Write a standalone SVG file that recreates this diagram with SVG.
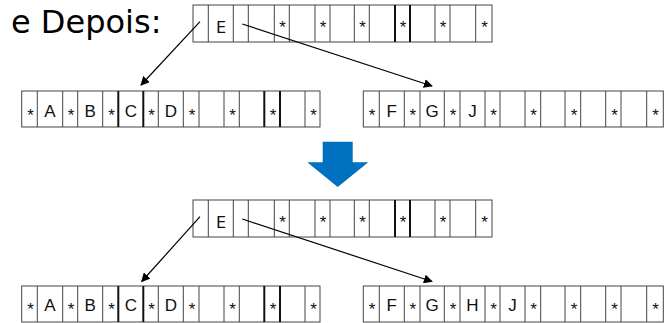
<svg xmlns="http://www.w3.org/2000/svg" width="667" height="323" viewBox="0 0 667 323">
  <style>
    .box { fill: #ffffff; stroke: #444444; stroke-width: 1; }
    .sep { stroke: #444444; stroke-width: 1; }
    .thick { stroke: #111111; stroke-width: 2; }
    .key { font-family: "Liberation Sans", Arial, sans-serif; font-size: 17px; fill: #111111; text-anchor: middle; }
    .keyE { font-family: "DejaVu Sans", Verdana, sans-serif; font-size: 16px; fill: #111111; text-anchor: middle; }
    .ptr { font-family: "Liberation Sans", Arial, sans-serif; font-size: 17px; fill: #111111; text-anchor: middle; }
    .title { font-family: "DejaVu Sans", Verdana, sans-serif; font-size: 32px; fill: #000000; }
    .link { stroke: #000000; stroke-width: 1.2; fill: none; marker-end: url(#head); }
  </style>
  <defs>
    <marker id="head" viewBox="0 0 10 10" refX="9" refY="5" markerWidth="9" markerHeight="9" markerUnits="userSpaceOnUse" orient="auto">
      <path d="M0,0 L10,5 L0,10 z" fill="#000000"/>
    </marker>
  </defs>

  <text class="title" x="11" y="33">e Depois:</text>

  <!-- first tree: root page -->
  <g id="root1">
    <rect class="box" x="193" y="5" width="299" height="37"/>
    <path class="sep" d="M208.3,5V42M233.3,5V42M248.3,5V42M274.3,5V42M289.3,5V42M315,5V42M330,5V42M354.3,5V42M369.3,5V42M435,5V42M450,5V42M475.7,5V42"/>
    <path class="thick" d="M395,5V42M410,5V42"/>
    <text class="keyE" x="221" y="32.5">E</text>
    <text class="ptr" x="282.5" y="33">*</text>
    <text class="ptr" x="323" y="33">*</text>
    <text class="ptr" x="362.5" y="33">*</text>
    <text class="ptr" x="403" y="33">*</text>
    <text class="ptr" x="443" y="33">*</text>
    <text class="ptr" x="484.5" y="33">*</text>
  </g>

  <!-- first tree: left leaf -->
  <g id="leftLeaf1">
    <rect class="box" x="21.7" y="91" width="298.3" height="36"/>
    <path class="sep" d="M37.3,91V127M62.7,91V127M77.7,91V127M102.7,91V127M158.3,91V127M183.3,91V127M199,91V127M224,91V127M239.3,91V127M305,91V127"/>
    <path class="thick" d="M118.3,91V127M143.3,91V127M264.3,91V127M280,91V127"/>
    <text class="ptr" x="30.5" y="121">*</text>
    <text class="key" x="50" y="117">A</text>
    <text class="ptr" x="71" y="121">*</text>
    <text class="key" x="90.2" y="117">B</text>
    <text class="ptr" x="111.5" y="121">*</text>
    <text class="key" x="130.8" y="117">C</text>
    <text class="ptr" x="151.5" y="121">*</text>
    <text class="key" x="170.8" y="117">D</text>
    <text class="ptr" x="192" y="121">*</text>
    <text class="ptr" x="232.5" y="121">*</text>
    <text class="ptr" x="273" y="121">*</text>
    <text class="ptr" x="313.5" y="121">*</text>
  </g>

  <!-- first tree: right leaf -->
  <g id="rightLeaf1">
    <rect class="box" x="363.3" y="91" width="300" height="36"/>
    <path class="sep" d="M379.3,91V127M404.3,91V127M420,91V127M444.3,91V127M460,91V127M485,91V127M500,91V127M525,91V127M540.7,91V127M565,91V127M580.7,91V127M605.7,91V127M621,91V127M646.7,91V127"/>
    <text class="ptr" x="372" y="121">*</text>
    <text class="key" x="391.8" y="117">F</text>
    <text class="ptr" x="412.8" y="121">*</text>
    <text class="key" x="432.2" y="117">G</text>
    <text class="ptr" x="453" y="121">*</text>
    <text class="key" x="472.5" y="117">J</text>
    <text class="ptr" x="493.5" y="121">*</text>
    <text class="ptr" x="533.5" y="121">*</text>
    <text class="ptr" x="574" y="121">*</text>
    <text class="ptr" x="614.5" y="121">*</text>
    <text class="ptr" x="655.5" y="121">*</text>
  </g>

  <!-- transition arrow -->
  <g id="transition">
    <path d="M322.7,141.7H352.7V162.3H368.3L337.7,187L307.3,162.3H322.7z" fill="#0070C0"/>
  </g>

  <!-- second tree: root page -->
  <g id="root2">
    <rect class="box" x="193" y="200" width="299" height="37"/>
    <path class="sep" d="M208.3,200V237M233.3,200V237M248.3,200V237M274.3,200V237M289.3,200V237M315,200V237M330,200V237M354.3,200V237M369.3,200V237M435,200V237M450,200V237M475.7,200V237"/>
    <path class="thick" d="M395,200V237M410,200V237"/>
    <text class="keyE" x="221" y="227.5">E</text>
    <text class="ptr" x="282.5" y="228">*</text>
    <text class="ptr" x="323" y="228">*</text>
    <text class="ptr" x="362.5" y="228">*</text>
    <text class="ptr" x="403" y="228">*</text>
    <text class="ptr" x="443" y="228">*</text>
    <text class="ptr" x="484.5" y="228">*</text>
  </g>

  <!-- second tree: left leaf -->
  <g id="leftLeaf2">
    <rect class="box" x="21.7" y="286" width="298.3" height="36"/>
    <path class="sep" d="M37.3,286V322M62.7,286V322M77.7,286V322M102.7,286V322M158.3,286V322M183.3,286V322M199,286V322M224,286V322M239.3,286V322M305,286V322"/>
    <path class="thick" d="M118.3,286V322M143.3,286V322M264.3,286V322M280,286V322"/>
    <text class="ptr" x="30.5" y="315">*</text>
    <text class="key" x="50" y="311">A</text>
    <text class="ptr" x="71" y="315">*</text>
    <text class="key" x="90.2" y="311">B</text>
    <text class="ptr" x="111.5" y="315">*</text>
    <text class="key" x="130.8" y="311">C</text>
    <text class="ptr" x="151.5" y="315">*</text>
    <text class="key" x="170.8" y="311">D</text>
    <text class="ptr" x="192" y="315">*</text>
    <text class="ptr" x="232.5" y="315">*</text>
    <text class="ptr" x="273" y="315">*</text>
    <text class="ptr" x="313.5" y="315">*</text>
  </g>

  <!-- second tree: right leaf -->
  <g id="rightLeaf2">
    <rect class="box" x="363.3" y="286" width="300" height="36"/>
    <path class="sep" d="M379.3,286V322M404.3,286V322M420,286V322M444.3,286V322M460,286V322M485,286V322M500,286V322M525,286V322M540.7,286V322M565,286V322M580.7,286V322M605.7,286V322M621,286V322M646.7,286V322"/>
    <text class="ptr" x="372" y="315">*</text>
    <text class="key" x="391.8" y="311">F</text>
    <text class="ptr" x="412.8" y="315">*</text>
    <text class="key" x="432.2" y="311">G</text>
    <text class="ptr" x="453" y="315">*</text>
    <text class="key" x="472.5" y="311">H</text>
    <text class="ptr" x="493.5" y="315">*</text>
    <text class="key" x="512.5" y="311">J</text>
    <text class="ptr" x="533.5" y="315">*</text>
    <text class="ptr" x="574" y="315">*</text>
    <text class="ptr" x="614.5" y="315">*</text>
    <text class="ptr" x="655.5" y="315">*</text>
  </g>

  <!-- child pointers -->
  <g id="connectors">
    <line class="link" x1="200" y1="21.7" x2="141" y2="85"/>
    <line class="link" x1="242.3" y1="24" x2="432" y2="86"/>
    <line class="link" x1="200" y1="216.7" x2="141.7" y2="281.5"/>
    <line class="link" x1="242.3" y1="219" x2="432" y2="281.5"/>
  </g>
</svg>
